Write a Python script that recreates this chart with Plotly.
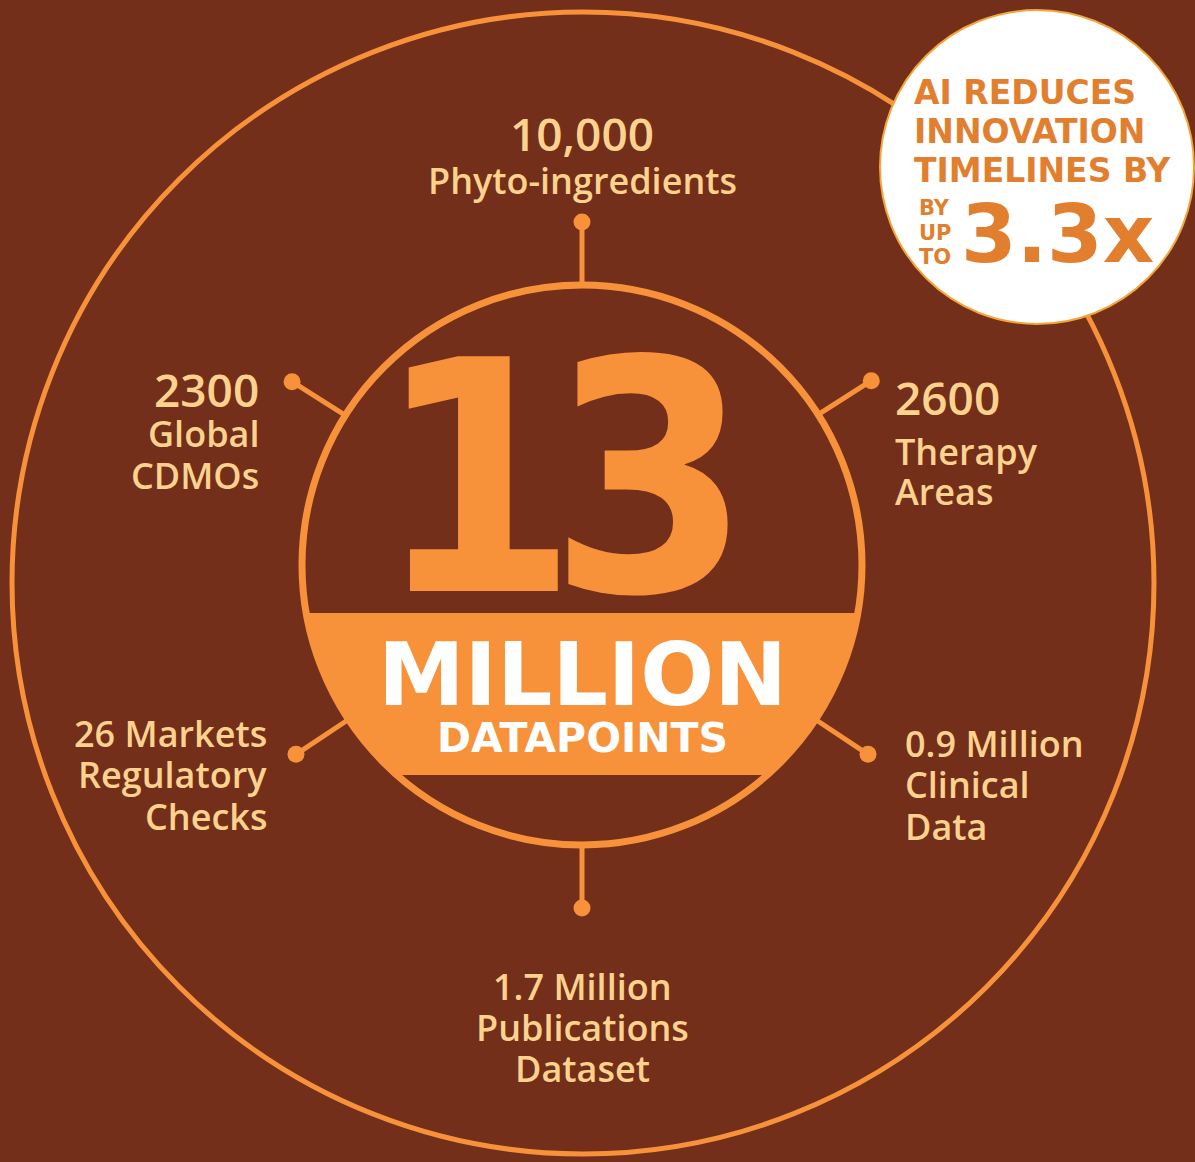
import numpy as np
import plotly.graph_objects as go

# ---------------- data ----------------
headline_value = "13"
headline_unit = "MILLION"
headline_caption = "DATAPOINTS"

stat_numbers = ["10,000", "2600", "0.9 Million", "1.7 Million", "26 Markets", "2300"]
stat_captions = [
    ["Phyto-ingredients"],
    ["Therapy", "Areas"],
    ["Clinical", "Data"],
    ["Publications", "Dataset"],
    ["Regulatory", "Checks"],
    ["Global", "CDMOs"],
]
spoke_angles_deg = [90, 32.5, -33.5, -90, -146.5, 147.7]

badge_lines = ["AI REDUCES", "INNOVATION", "TIMELINES BY"]
badge_small = ["BY", "UP", "TO"]
badge_value = "3.3x"

# ---------------- style ----------------
W, H = 1195, 1162
BG = "#732F1A"
ORANGE = "#F7923A"
PEACH = "#FDD28E"
BADGE_TXT = "#E27F2F"
LABEL_FONT = "Open Sans"
BIG_FONT = "Liberation Sans Narrow, DejaVu Sans Condensed, Roboto, sans-serif"

CX, CY = 582, 565          # inner circle centre (px)
R_IN = 280
R_DOT = 343
OCX, OCY, R_OUT = 583, 583, 571
BAND_TOP, BAND_BOT = 613, 775

text_layout = [
    dict(x=582, anchor="center", y0=133, ygap=[47]),
    dict(x=893, anchor="left", y0=397, ygap=[54, 40]),
    dict(x=903, anchor="left", y0=743, ygap=[41, 42]),
    dict(x=582, anchor="center", y0=986, ygap=[41, 41]),
    dict(x=269, anchor="right", y0=733, ygap=[41, 42]),
    dict(x=261, anchor="right", y0=389, ygap=[44, 42]),
]

fig = go.Figure()
shapes = []
annotations = []

shapes.append(dict(type="circle", xref="x", yref="y",
                   x0=OCX - R_OUT, x1=OCX + R_OUT, y0=OCY - R_OUT, y1=OCY + R_OUT,
                   line=dict(color=ORANGE, width=5), fillcolor="rgba(0,0,0,0)", layer="below"))

for ang in spoke_angles_deg:
    a = np.deg2rad(ang)
    x1, y1 = CX + R_IN * np.cos(a), CY - R_IN * np.sin(a)
    x2, y2 = CX + R_DOT * np.cos(a), CY - R_DOT * np.sin(a)
    shapes.append(dict(type="line", xref="x", yref="y", x0=x1, y0=y1, x1=x2, y1=y2,
                       line=dict(color=ORANGE, width=5)))
    shapes.append(dict(type="circle", xref="x", yref="y", x0=x2 - 8.5, x1=x2 + 8.5,
                       y0=y2 - 8.5, y1=y2 + 8.5, fillcolor=ORANGE, line=dict(width=0)))


def band_path(r, ytop, ybot):
    t_top = np.arcsin((ytop - CY) / r)
    t_bot = np.arcsin((ybot - CY) / r)
    ts = np.linspace(t_top, t_bot, 40)
    right = [(CX + r * np.cos(t), CY + r * np.sin(t)) for t in ts]
    left = [(CX - r * np.cos(t), CY + r * np.sin(t)) for t in ts[::-1]]
    return "M " + " L ".join(f"{x:.2f},{y:.2f}" for x, y in right + left) + " Z"


shapes.append(dict(type="path", xref="x", yref="y", path=band_path(R_IN, BAND_TOP, BAND_BOT),
                   fillcolor=ORANGE, line=dict(width=0)))

shapes.append(dict(type="circle", xref="x", yref="y",
                   x0=CX - R_IN, x1=CX + R_IN, y0=CY - R_IN, y1=CY + R_IN,
                   line=dict(color=ORANGE, width=7), fillcolor="rgba(0,0,0,0)"))

BX, BY, BR = 1037, 167, 157
shapes.append(dict(type="circle", xref="x", yref="y",
                   x0=BX - BR, x1=BX + BR, y0=BY - BR, y1=BY + BR,
                   line=dict(color="#F4A53A", width=2), fillcolor="white"))


def ann(text, x, y, size, color, family, weight="normal", xanchor="center", **kw):
    annotations.append(dict(text=text, x=x, y=y, xref="x", yref="y", showarrow=False,
                            xanchor=xanchor, yanchor="middle",
                            font=dict(size=size, color=color, family=family, weight=weight), **kw))


ann(headline_value[0], 477, 479, 322, ORANGE, BIG_FONT, "bold")
ann(headline_value[1], 650, 479, 322, ORANGE, BIG_FONT, "bold")
ann(headline_unit, 582, 675, 87, "white", "DejaVu Sans", "bold")
ann(headline_caption, 582, 738, 41, "white", "DejaVu Sans", "bold")

for num, caps, lay in zip(stat_numbers, stat_captions, text_layout):
    y = lay["y0"]
    ann(num, lay["x"], y, 46 if len(num) <= 6 else 36, PEACH, LABEL_FONT, 600, lay["anchor"])
    for cap, g in zip(caps, lay["ygap"]):
        y += g
        ann(cap, lay["x"], y, 36, PEACH, LABEL_FONT, 600, lay["anchor"])

for i, line in enumerate(badge_lines):
    ann(line, 912, 92 + 39 * i, 33, BADGE_TXT, "DejaVu Sans", "bold", "left")
for i, s in enumerate(badge_small):
    ann(s, 917, 208 + 24.5 * i, 21, BADGE_TXT, "DejaVu Sans", "bold", "left")
ann(badge_value, 959, 234, 80, BADGE_TXT, "DejaVu Sans", "bold", "left")

fig.update_layout(
    width=W, height=H,
    margin=dict(l=0, r=0, t=0, b=0),
    paper_bgcolor=BG, plot_bgcolor=BG,
    xaxis=dict(range=[0, W], visible=False, fixedrange=True),
    yaxis=dict(range=[H, 0], visible=False, fixedrange=True),
    shapes=shapes, annotations=annotations, showlegend=False,
)
fig.write_html("out.html", config=dict(displayModeBar=False))
